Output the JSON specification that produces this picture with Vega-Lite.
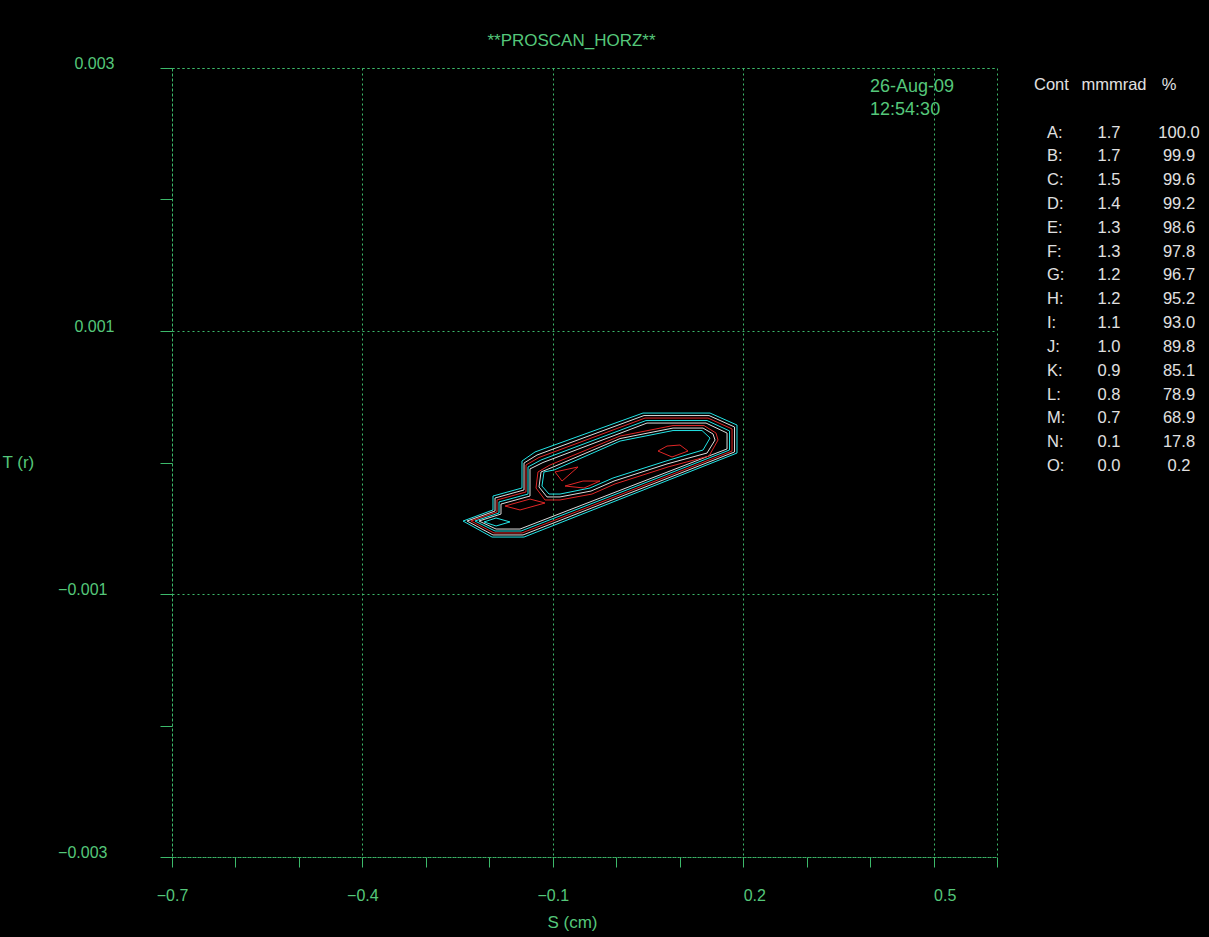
{
  "$schema": "https://vega.github.io/schema/vega-lite/v6.json",
  "width": 825,
  "height": 789,
  "autosize": {"type": "none"},
  "padding": {"left": 172, "top": 68, "right": 212, "bottom": 80},
  "background": "#000000",
  "config": {
    "view": {"stroke": "#3cb96a", "strokeDash": [2, 3], "strokeWidth": 1}
  },
  "title": {
    "text": "**PROSCAN_HORZ**",
    "color": "#55c77a",
    "font": "Liberation Sans",
    "fontSize": 17,
    "fontWeight": "normal",
    "anchor": "middle",
    "dx": -13,
    "offset": -8,
    "baseline": "alphabetic"
  },
  "datasets": {
    "contours": [
      {"c": "O0", "p": "cyan", "i": 1, "s": -0.2414, "t": -0.000445},
      {"c": "O0", "p": "cyan", "i": 2, "s": -0.1942, "t": -0.000361},
      {"c": "O0", "p": "cyan", "i": 3, "s": -0.1942, "t": -0.000255},
      {"c": "O0", "p": "cyan", "i": 4, "s": -0.1485, "t": -0.000194},
      {"c": "O0", "p": "cyan", "i": 5, "s": -0.1485, "t": 0.000011},
      {"c": "O0", "p": "cyan", "i": 6, "s": -0.1280, "t": 0.000080},
      {"c": "O0", "p": "cyan", "i": 7, "s": 0.0422, "t": 0.000376},
      {"c": "O0", "p": "cyan", "i": 8, "s": 0.1478, "t": 0.000376},
      {"c": "O0", "p": "cyan", "i": 9, "s": 0.1903, "t": 0.000285},
      {"c": "O0", "p": "cyan", "i": 10, "s": 0.1903, "t": 0.000072},
      {"c": "O0", "p": "cyan", "i": 11, "s": -0.1453, "t": -0.000567},
      {"c": "O0", "p": "cyan", "i": 12, "s": -0.1957, "t": -0.000567},
      {"c": "O0", "p": "cyan", "i": 13, "s": -0.2414, "t": -0.000445},

      {"c": "O1", "p": "white", "i": 1, "s": -0.2351, "t": -0.000445},
      {"c": "O1", "p": "white", "i": 2, "s": -0.1910, "t": -0.000369},
      {"c": "O1", "p": "white", "i": 3, "s": -0.1910, "t": -0.000270},
      {"c": "O1", "p": "white", "i": 4, "s": -0.1453, "t": -0.000209},
      {"c": "O1", "p": "white", "i": 5, "s": -0.1453, "t": -0.000004},
      {"c": "O1", "p": "white", "i": 6, "s": -0.1248, "t": 0.000057},
      {"c": "O1", "p": "white", "i": 7, "s": 0.0438, "t": 0.000357},
      {"c": "O1", "p": "white", "i": 8, "s": 0.1462, "t": 0.000357},
      {"c": "O1", "p": "white", "i": 9, "s": 0.1864, "t": 0.000270},
      {"c": "O1", "p": "white", "i": 10, "s": 0.1864, "t": 0.000080},
      {"c": "O1", "p": "white", "i": 11, "s": -0.1469, "t": -0.000551},
      {"c": "O1", "p": "white", "i": 12, "s": -0.1942, "t": -0.000551},
      {"c": "O1", "p": "white", "i": 13, "s": -0.2351, "t": -0.000445},

      {"c": "O2", "p": "red", "i": 1, "s": -0.2288, "t": -0.000445},
      {"c": "O2", "p": "red", "i": 2, "s": -0.1879, "t": -0.000376},
      {"c": "O2", "p": "red", "i": 3, "s": -0.1879, "t": -0.000285},
      {"c": "O2", "p": "red", "i": 4, "s": -0.1422, "t": -0.000224},
      {"c": "O2", "p": "red", "i": 5, "s": -0.1422, "t": -0.000019},
      {"c": "O2", "p": "red", "i": 6, "s": -0.1217, "t": 0.000038},
      {"c": "O2", "p": "red", "i": 7, "s": 0.0454, "t": 0.000338},
      {"c": "O2", "p": "red", "i": 8, "s": 0.1446, "t": 0.000338},
      {"c": "O2", "p": "red", "i": 9, "s": 0.1825, "t": 0.000255},
      {"c": "O2", "p": "red", "i": 10, "s": 0.1825, "t": 0.000087},
      {"c": "O2", "p": "red", "i": 11, "s": -0.1485, "t": -0.000536},
      {"c": "O2", "p": "red", "i": 12, "s": -0.1926, "t": -0.000536},
      {"c": "O2", "p": "red", "i": 13, "s": -0.2288, "t": -0.000445},

      {"c": "O3", "p": "cyan", "i": 1, "s": -0.2225, "t": -0.000445},
      {"c": "O3", "p": "cyan", "i": 2, "s": -0.1847, "t": -0.000384},
      {"c": "O3", "p": "cyan", "i": 3, "s": -0.1847, "t": -0.000300},
      {"c": "O3", "p": "cyan", "i": 4, "s": -0.1390, "t": -0.000240},
      {"c": "O3", "p": "cyan", "i": 5, "s": -0.1390, "t": -0.000034},
      {"c": "O3", "p": "cyan", "i": 6, "s": -0.1185, "t": 0.000019},
      {"c": "O3", "p": "cyan", "i": 7, "s": 0.0469, "t": 0.000319},
      {"c": "O3", "p": "cyan", "i": 8, "s": 0.1431, "t": 0.000319},
      {"c": "O3", "p": "cyan", "i": 9, "s": 0.1785, "t": 0.000240},
      {"c": "O3", "p": "cyan", "i": 10, "s": 0.1785, "t": 0.000095},
      {"c": "O3", "p": "cyan", "i": 11, "s": -0.1500, "t": -0.000521},
      {"c": "O3", "p": "cyan", "i": 12, "s": -0.1910, "t": -0.000521},
      {"c": "O3", "p": "cyan", "i": 13, "s": -0.2225, "t": -0.000445},

      {"c": "O4", "p": "white", "i": 1, "s": -0.2162, "t": -0.000445},
      {"c": "O4", "p": "white", "i": 2, "s": -0.1816, "t": -0.000392},
      {"c": "O4", "p": "white", "i": 3, "s": -0.1816, "t": -0.000316},
      {"c": "O4", "p": "white", "i": 4, "s": -0.1359, "t": -0.000255},
      {"c": "O4", "p": "white", "i": 5, "s": -0.1359, "t": -0.000049},
      {"c": "O4", "p": "white", "i": 6, "s": -0.1154, "t": 0.000000},
      {"c": "O4", "p": "white", "i": 7, "s": 0.0485, "t": 0.000300},
      {"c": "O4", "p": "white", "i": 8, "s": 0.1415, "t": 0.000300},
      {"c": "O4", "p": "white", "i": 9, "s": 0.1746, "t": 0.000224},
      {"c": "O4", "p": "white", "i": 10, "s": 0.1746, "t": 0.000103},
      {"c": "O4", "p": "white", "i": 11, "s": -0.1516, "t": -0.000506},
      {"c": "O4", "p": "white", "i": 12, "s": -0.1894, "t": -0.000506},
      {"c": "O4", "p": "white", "i": 13, "s": -0.2162, "t": -0.000445},

      {"c": "H2", "p": "red", "i": 1, "s": -0.1233, "t": -0.000072},
      {"c": "H2", "p": "red", "i": 2, "s": -0.1043, "t": -0.000019},
      {"c": "H2", "p": "red", "i": 3, "s": 0.0060, "t": 0.000201},
      {"c": "H2", "p": "red", "i": 4, "s": 0.0895, "t": 0.000281},
      {"c": "H2", "p": "red", "i": 5, "s": 0.1383, "t": 0.000281},
      {"c": "H2", "p": "red", "i": 6, "s": 0.1572, "t": 0.000224},
      {"c": "H2", "p": "red", "i": 7, "s": 0.1604, "t": 0.000171},
      {"c": "H2", "p": "red", "i": 8, "s": 0.1462, "t": 0.000049},
      {"c": "H2", "p": "red", "i": 9, "s": 0.0816, "t": -0.000034},
      {"c": "H2", "p": "red", "i": 10, "s": -0.0019, "t": -0.000163},
      {"c": "H2", "p": "red", "i": 11, "s": -0.0382, "t": -0.000240},
      {"c": "H2", "p": "red", "i": 12, "s": -0.0886, "t": -0.000285},
      {"c": "H2", "p": "red", "i": 13, "s": -0.1122, "t": -0.000285},
      {"c": "H2", "p": "red", "i": 14, "s": -0.1264, "t": -0.000194},
      {"c": "H2", "p": "red", "i": 15, "s": -0.1233, "t": -0.000072},

      {"c": "H1", "p": "white", "i": 1, "s": -0.1185, "t": -0.000072},
      {"c": "H1", "p": "white", "i": 2, "s": -0.1012, "t": -0.000038},
      {"c": "H1", "p": "white", "i": 3, "s": 0.0060, "t": 0.000182},
      {"c": "H1", "p": "white", "i": 4, "s": 0.0895, "t": 0.000262},
      {"c": "H1", "p": "white", "i": 5, "s": 0.1368, "t": 0.000262},
      {"c": "H1", "p": "white", "i": 6, "s": 0.1525, "t": 0.000217},
      {"c": "H1", "p": "white", "i": 7, "s": 0.1557, "t": 0.000171},
      {"c": "H1", "p": "white", "i": 8, "s": 0.1431, "t": 0.000072},
      {"c": "H1", "p": "white", "i": 9, "s": 0.0800, "t": -0.000011},
      {"c": "H1", "p": "white", "i": 10, "s": -0.0035, "t": -0.000141},
      {"c": "H1", "p": "white", "i": 11, "s": -0.0397, "t": -0.000217},
      {"c": "H1", "p": "white", "i": 12, "s": -0.0886, "t": -0.000262},
      {"c": "H1", "p": "white", "i": 13, "s": -0.1091, "t": -0.000262},
      {"c": "H1", "p": "white", "i": 14, "s": -0.1217, "t": -0.000186},
      {"c": "H1", "p": "white", "i": 15, "s": -0.1185, "t": -0.000072},

      {"c": "H0", "p": "cyan", "i": 1, "s": -0.1138, "t": -0.000072},
      {"c": "H0", "p": "cyan", "i": 2, "s": -0.0980, "t": -0.000057},
      {"c": "H0", "p": "cyan", "i": 3, "s": 0.0060, "t": 0.000163},
      {"c": "H0", "p": "cyan", "i": 4, "s": 0.0895, "t": 0.000243},
      {"c": "H0", "p": "cyan", "i": 5, "s": 0.1352, "t": 0.000243},
      {"c": "H0", "p": "cyan", "i": 6, "s": 0.1478, "t": 0.000186},
      {"c": "H0", "p": "cyan", "i": 7, "s": 0.1368, "t": 0.000095},
      {"c": "H0", "p": "cyan", "i": 8, "s": 0.0784, "t": 0.000011},
      {"c": "H0", "p": "cyan", "i": 9, "s": -0.0051, "t": -0.000118},
      {"c": "H0", "p": "cyan", "i": 10, "s": -0.0413, "t": -0.000194},
      {"c": "H0", "p": "cyan", "i": 11, "s": -0.0886, "t": -0.000240},
      {"c": "H0", "p": "cyan", "i": 12, "s": -0.1059, "t": -0.000240},
      {"c": "H0", "p": "cyan", "i": 13, "s": -0.1170, "t": -0.000179},
      {"c": "H0", "p": "cyan", "i": 14, "s": -0.1138, "t": -0.000072},

      {"c": "R1", "p": "red", "i": 1, "s": -0.0965, "t": -0.000072},
      {"c": "R1", "p": "red", "i": 2, "s": -0.0602, "t": -0.000034},
      {"c": "R1", "p": "red", "i": 3, "s": -0.0854, "t": -0.000141},
      {"c": "R1", "p": "red", "i": 4, "s": -0.0965, "t": -0.000072},

      {"c": "R2", "p": "red", "i": 1, "s": -0.0807, "t": -0.000179},
      {"c": "R2", "p": "red", "i": 2, "s": -0.0524, "t": -0.000141},
      {"c": "R2", "p": "red", "i": 3, "s": -0.0256, "t": -0.000141},
      {"c": "R2", "p": "red", "i": 4, "s": -0.0508, "t": -0.000194},
      {"c": "R2", "p": "red", "i": 5, "s": -0.0807, "t": -0.000179},

      {"c": "R3", "p": "red", "i": 1, "s": 0.0658, "t": 0.000087},
      {"c": "R3", "p": "red", "i": 2, "s": 0.0800, "t": 0.000125},
      {"c": "R3", "p": "red", "i": 3, "s": 0.1005, "t": 0.000133},
      {"c": "R3", "p": "red", "i": 4, "s": 0.1131, "t": 0.000087},
      {"c": "R3", "p": "red", "i": 5, "s": 0.0879, "t": 0.000042},
      {"c": "R3", "p": "red", "i": 6, "s": 0.0658, "t": 0.000087},

      {"c": "R5", "p": "red", "i": 1, "s": -0.1753, "t": -0.000331},
      {"c": "R5", "p": "red", "i": 2, "s": -0.1359, "t": -0.000278},
      {"c": "R5", "p": "red", "i": 3, "s": -0.1122, "t": -0.000308},
      {"c": "R5", "p": "red", "i": 4, "s": -0.1516, "t": -0.000361},
      {"c": "R5", "p": "red", "i": 5, "s": -0.1753, "t": -0.000331},

      {"c": "D", "p": "cyan", "i": 1, "s": -0.2083, "t": -0.000452},
      {"c": "D", "p": "cyan", "i": 2, "s": -0.1894, "t": -0.000422},
      {"c": "D", "p": "cyan", "i": 3, "s": -0.1674, "t": -0.000452},
      {"c": "D", "p": "cyan", "i": 4, "s": -0.1894, "t": -0.000483},
      {"c": "D", "p": "cyan", "i": 5, "s": -0.2083, "t": -0.000452}
    ],
    "table": [
      {"r": -2, "lab": "Cont", "mm": "mmmrad", "pct": "%"},
      {"r": 0, "lab": "A:", "mm": "1.7", "pct": "100.0"},
      {"r": 1, "lab": "B:", "mm": "1.7", "pct": "99.9"},
      {"r": 2, "lab": "C:", "mm": "1.5", "pct": "99.6"},
      {"r": 3, "lab": "D:", "mm": "1.4", "pct": "99.2"},
      {"r": 4, "lab": "E:", "mm": "1.3", "pct": "98.6"},
      {"r": 5, "lab": "F:", "mm": "1.3", "pct": "97.8"},
      {"r": 6, "lab": "G:", "mm": "1.2", "pct": "96.7"},
      {"r": 7, "lab": "H:", "mm": "1.2", "pct": "95.2"},
      {"r": 8, "lab": "I:", "mm": "1.1", "pct": "93.0"},
      {"r": 9, "lab": "J:", "mm": "1.0", "pct": "89.8"},
      {"r": 10, "lab": "K:", "mm": "0.9", "pct": "85.1"},
      {"r": 11, "lab": "L:", "mm": "0.8", "pct": "78.9"},
      {"r": 12, "lab": "M:", "mm": "0.7", "pct": "68.9"},
      {"r": 13, "lab": "N:", "mm": "0.1", "pct": "17.8"},
      {"r": 14, "lab": "O:", "mm": "0.0", "pct": "0.2"}
    ]
  },
  "layer": [
    {
      "layer": [
        {
          "data": {"name": "contours"},
          "mark": {"type": "line", "strokeWidth": 1, "clip": false},
          "encoding": {
            "x": {
              "field": "s",
              "type": "quantitative",
              "scale": {"domain": [-0.7, 0.6], "nice": false, "zero": false},
              "axis": {
                "title": "S (cm)",
                "values": [-0.7, -0.6, -0.5, -0.4, -0.3, -0.2, -0.1, 0, 0.1, 0.2, 0.3, 0.4, 0.5, 0.6],
                "domain": false,
                "ticks": true,
                "tickSize": 10,
                "tickColor": "#3cb96a",
                "tickWidth": 1,
                "grid": true,
                "gridColor": "#3cb96a",
                "gridDash": [2, 3],
                "gridWidth": 1,
                "gridOpacity": {"condition": {"test": "abs((datum.value + 0.7) / 0.3 - round((datum.value + 0.7) / 0.3)) < 0.01", "value": 1}, "value": 0},
                "labelExpr": "abs((datum.value + 0.7) / 0.3 - round((datum.value + 0.7) / 0.3)) < 0.01 ? format(datum.value, '.1f') : ''",
                "labelAlign": {"condition": {"test": "datum.value < 0", "value": "center"}, "value": "left"},
                "labelBaseline": "alphabetic",
                "labelPadding": 33,
                "labelColor": "#55c77a",
                "labelFont": "Liberation Sans",
                "labelFontSize": 16,
                "labelOverlap": false,
                "labelFlush": false,
                "labelBound": false,
                "titleColor": "#55c77a",
                "titleFont": "Liberation Sans",
                "titleFontSize": 17,
                "titleFontWeight": "normal",
                "titleX": 400,
                "titleY": 65,
                "titleAlign": "center",
                "titleBaseline": "middle"
              }
            },
            "y": {
              "field": "t",
              "type": "quantitative",
              "scale": {"domain": [-0.003, 0.003], "nice": false, "zero": false},
              "axis": {
                "title": "T (r)",
                "values": [-0.003, -0.002, -0.001, 0, 0.001, 0.002, 0.003],
                "domain": false,
                "tickSize": 12,
                "tickColor": "#3cb96a",
                "tickWidth": 1,
                "grid": true,
                "gridColor": "#3cb96a",
                "gridDash": [2, 3],
                "gridWidth": 1,
                "gridOpacity": {"condition": {"test": "abs((datum.value + 0.003) / 0.002 - round((datum.value + 0.003) / 0.002)) < 0.01", "value": 1}, "value": 0},
                "labelExpr": "abs((datum.value + 0.003) / 0.002 - round((datum.value + 0.003) / 0.002)) < 0.01 ? format(datum.value, '.3f') : ''",
                "labelAlign": "right",
                "labelBaseline": "alphabetic",
                "labelPadding": {"condition": {"test": "datum.value < 0", "value": 53}, "value": 46},
                "labelColor": "#55c77a",
                "labelFont": "Liberation Sans",
                "labelFontSize": 16,
                "labelOverlap": false,
                "labelFlush": false,
                "labelBound": false,
                "titleColor": "#55c77a",
                "titleFont": "Liberation Sans",
                "titleFontSize": 17,
                "titleFontWeight": "normal",
                "titleAngle": 0,
                "titleX": -170,
                "titleY": 394,
                "titleAlign": "left",
                "titleBaseline": "middle"
              }
            },
            "detail": {"field": "c", "type": "nominal"},
            "order": {"field": "i", "type": "quantitative"},
            "color": {
              "field": "p",
              "type": "nominal",
              "scale": {"domain": ["cyan", "white", "red"], "range": ["#22e4e6", "#dcdcdc", "#e02626"]},
              "legend": null
            }
          }
        },
        {
          "data": {"values": [{"d": "26-Aug-09"}]},
          "mark": {"type": "text", "align": "left", "baseline": "alphabetic", "color": "#55c77a", "font": "Liberation Sans", "fontSize": 18},
          "encoding": {
            "text": {"field": "d", "type": "nominal"},
            "x": {"datum": 0.4},
            "y": {"datum": 0.002817}
          }
        },
        {
          "data": {"values": [{"d": "12:54:30"}]},
          "mark": {"type": "text", "align": "left", "baseline": "alphabetic", "color": "#55c77a", "font": "Liberation Sans", "fontSize": 18},
          "encoding": {
            "text": {"field": "d", "type": "nominal"},
            "x": {"datum": 0.4},
            "y": {"datum": 0.002643}
          }
        }
      ]
    },
    {
      "data": {"name": "table"},
      "encoding": {
        "y": {
          "field": "r",
          "type": "quantitative",
          "scale": {"domain": [-2.708, 30.416], "reverse": true, "nice": false, "zero": false},
          "axis": null
        }
      },
      "layer": [
        {
          "mark": {"type": "text", "align": "left", "baseline": "middle", "color": "#e0e0e0", "font": "Liberation Sans", "fontSize": 16.5, "dx": {"expr": "datum.r < 0 ? -13 : 0"}},
          "encoding": {"text": {"field": "lab", "type": "nominal"}, "x": {"datum": 0.6788}}
        },
        {
          "mark": {"type": "text", "align": "center", "baseline": "middle", "color": "#e0e0e0", "font": "Liberation Sans", "fontSize": 16.5, "dx": {"expr": "datum.r < 0 ? 5 : 0"}},
          "encoding": {"text": {"field": "mm", "type": "nominal"}, "x": {"datum": 0.7765}}
        },
        {
          "mark": {"type": "text", "align": "center", "baseline": "middle", "color": "#e0e0e0", "font": "Liberation Sans", "fontSize": 16.5, "dx": {"expr": "datum.r < 0 ? -10 : 0"}},
          "encoding": {"text": {"field": "pct", "type": "nominal"}, "x": {"datum": 0.8868}}
        }
      ]
    }
  ],
  "resolve": {"scale": {"y": "independent"}}
}
